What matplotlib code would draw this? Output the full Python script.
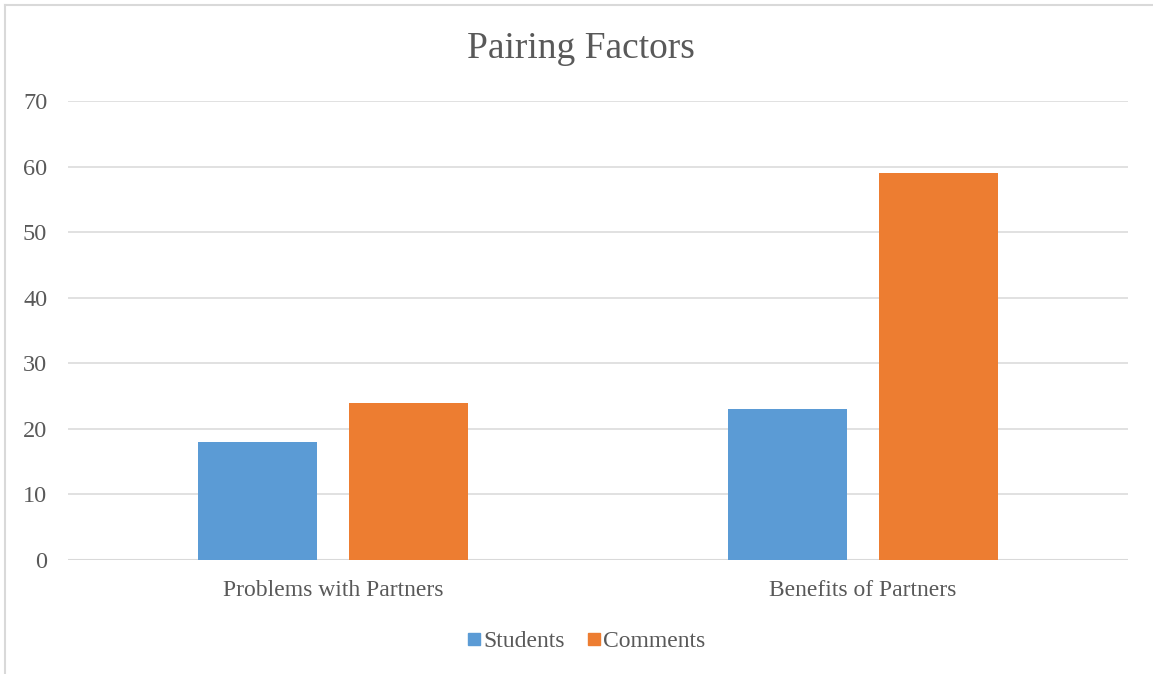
import matplotlib
matplotlib.use("Agg")
import matplotlib.pyplot as plt
from matplotlib.lines import Line2D
import numpy as np

categories = ["Problems with Partners", "Benefits of Partners"]
series_names = ["Students", "Comments"]
students = [18, 23]
comments = [24, 59]
yticks = [0, 10, 20, 30, 40, 50, 60, 70]
colors = ["#5B9BD5", "#ED7D31"]

plt.rcParams['font.family'] = ['Liberation Serif', 'DejaVu Serif']
txt = "#595959"

fig = plt.figure(figsize=(11.53, 6.74), dpi=100)
ax = fig.add_axes([68/1153, 1-560/674, 1060/1153, 459/674])

x = np.arange(len(categories))
w = 0.2245
off = 0.1425
ax.bar(x - off, students, w, color=colors[0], label=series_names[0], zorder=3)
ax.bar(x + off, comments, w, color=colors[1], label=series_names[1], zorder=3)

ax.set_xlim(-0.5, 1.5)
ax.set_ylim(0, 70)
ax.set_yticks(yticks)
ax.set_yticklabels([str(t) for t in yticks], fontsize=17.5, color=txt)
ax.set_xticks(x)
ax.set_xticklabels(categories, fontsize=17, color=txt)
ax.tick_params(axis='both', length=0)
ax.tick_params(axis='y', pad=15)
ax.tick_params(axis='x', pad=14.5)
ax.grid(axis='y', color="#D9D9D9", linewidth=1.1, zorder=0)
for s in ax.spines.values():
    s.set_visible(False)
ax.axhline(0, color="#D9D9D9", linewidth=1.5, zorder=2)

fig.text(581/1153, 1-49/674, "Pairing Factors", ha='center', va='center', fontsize=27, color=txt)

handles = [Line2D([], [], marker='s', linestyle='none', markersize=8, color=c) for c in colors]
fig.legend(handles, series_names, loc='center', bbox_to_anchor=(585/1153, 1-641/674), ncol=2,
           frameon=False, fontsize=17, labelcolor=txt, handletextpad=0.0, columnspacing=0.8,
           handlelength=0.8)

# figure border (top and left visible)
fig.add_artist(Line2D([5/1153, 5/1153], [0, 1-5/674], color="#D9D9D9", linewidth=1.5, transform=fig.transFigure))
fig.add_artist(Line2D([5/1153, 1], [1-5/674, 1-5/674], color="#D9D9D9", linewidth=1.5, transform=fig.transFigure))

fig.savefig("out.png", dpi=100)
